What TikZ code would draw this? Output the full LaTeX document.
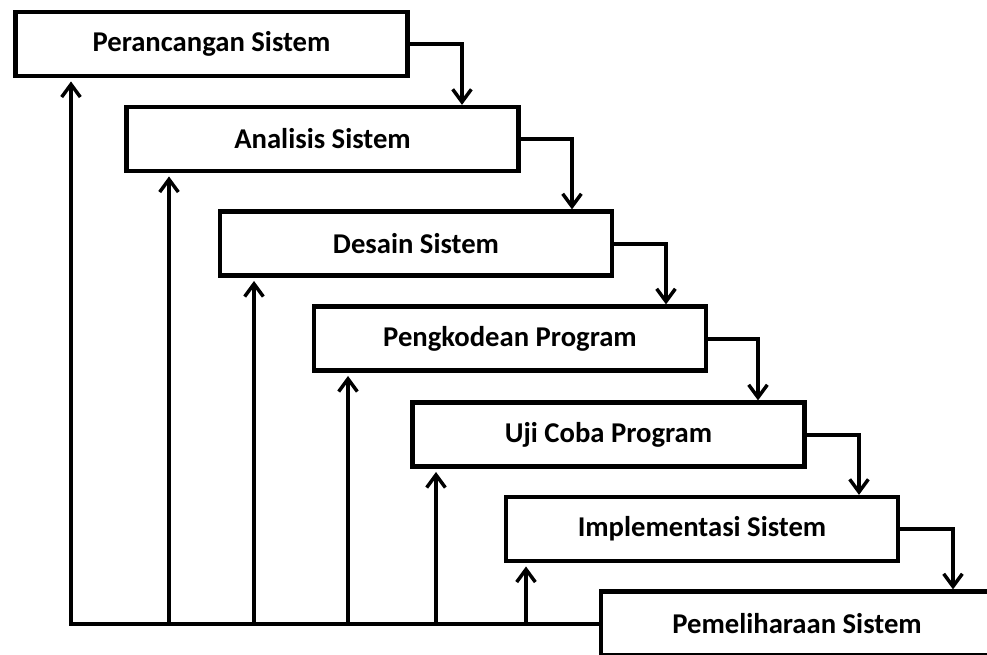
\documentclass[tikz,border=0pt]{standalone}
\usepackage{fontspec}
\setmainfont{Carlito}
\usetikzlibrary{arrows.meta}
\begin{document}
\begin{tikzpicture}[x={(0.75pt,0)},y={(0,-0.75pt)},
  stage/.style={draw=black,line width=3.2pt,fill=white,minimum width=294pt,minimum height=48pt,inner sep=0pt,font=\bfseries\fontsize{21.5}{24}\selectfont},
  flow/.style={line width=3pt,-{Straight Barb[length=9.5pt,width=14pt,line width=2.6pt]}},
  back/.style={line width=3pt,-{Straight Barb[length=9.5pt,width=14pt,line width=2.6pt]},shorten >=2.5pt},
  base/.style={line width=3pt}]
\useasboundingbox (0,0) rectangle (987,654);
\clip (0,0) rectangle (987,654);
\node[stage] (b1) at (211.5,44) {Perancangan Sistem};
\node[stage] (b2) at (322.5,139) {Analisis Sistem};
\node[stage] (b3) at (416,243.5) {Desain Sistem};
\node[stage] (b4) at (510,338.5) {Pengkodean Program};
\node[stage] (b5) at (608.5,434.5) {Uji Coba Program};
\node[stage] (b6) at (702,529) {Implementasi Sistem};
\node[stage] (b7) at (797,623.5) {Pemeliharaan Sistem};
% forward flow
\draw[flow] (b1.east) -| (b2.north -| 462,0);
\draw[flow] (b2.east) -| (b3.north -| 572,0);
\draw[flow] (b3.east) -| (b4.north -| 666,0);
\draw[flow] (b4.east) -| (b5.north -| 758,0);
\draw[flow] (b5.east) -| (b6.north -| 859,0);
\draw[flow] (b6.east) -| (b7.north -| 953,0);
% feedback
\coordinate (c0) at (71,624);
\draw[base] (b7.west) -- (c0 -| b7.west) -- (c0) -- ++(0,-1);
\draw[back] (c0) -- (b1.south -| c0);
\draw[back] (169,624) coordinate (c2) -- (b2.south -| c2);
\draw[back] (254,624) coordinate (c3) -- (b3.south -| c3);
\draw[back] (348,624) coordinate (c4) -- (b4.south -| c4);
\draw[back] (436,624) coordinate (c5) -- (b5.south -| c5);
\draw[back] (526,624) coordinate (c6) -- (b6.south -| c6);
\end{tikzpicture}
\end{document}
